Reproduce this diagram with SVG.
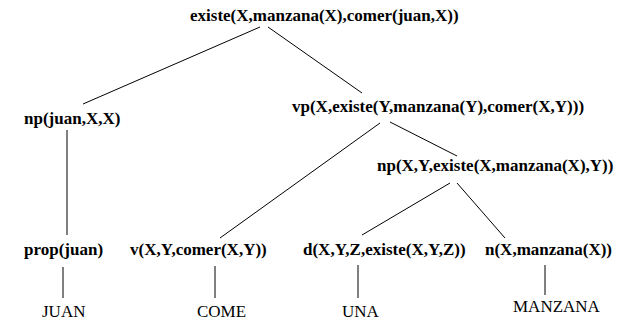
<svg xmlns="http://www.w3.org/2000/svg" width="630" height="320" viewBox="0 0 630 320">
<style>
text{font-family:'Liberation Serif',Tinos,'Nimbus Roman','Nimbus Roman No9 L',FreeSerif,Times,'Times New Roman','DejaVu Serif','Noto Serif',serif;font-size:17px;fill:#000}
.b{font-weight:bold}
.e line{stroke:#000;stroke-width:1}
</style>
<rect width="630" height="320" fill="#fff"/>
<g id="edges" class="e">
<line x1="260" y1="27" x2="83" y2="104"/>
<line x1="268" y1="27" x2="362" y2="93"/>
<line x1="67" y1="130" x2="67" y2="235"/>
<line x1="380" y1="123" x2="220" y2="238"/>
<line x1="390" y1="122" x2="457" y2="156"/>
<line x1="450" y1="183" x2="362" y2="235"/>
<line x1="457" y1="183" x2="505" y2="238"/>
<line x1="63" y1="267" x2="63" y2="298"/>
<line x1="215" y1="266" x2="215" y2="298"/>
<line x1="358" y1="265" x2="358" y2="298"/>
<line x1="545" y1="265" x2="545" y2="295"/>
</g>
<g id="root"><text class="b" x="190" y="21">existe(X,manzana(X),comer(juan,X))</text></g>
<g id="np1"><text class="b" x="24" y="124">np(juan,X,X)</text></g>
<g id="vp"><text class="b" x="292" y="112">vp(X,existe(Y,manzana(Y),comer(X,Y)))</text></g>
<g id="np2"><text class="b" x="377" y="171">np(X,Y,existe(X,manzana(X),Y))</text></g>
<g id="prop"><text class="b" x="24" y="255">prop(juan)</text></g>
<g id="v"><text class="b" x="130" y="255">v(X,Y,comer(X,Y))</text></g>
<g id="d"><text class="b" x="303" y="255">d(X,Y,Z,existe(X,Y,Z))</text></g>
<g id="n"><text class="b" x="485" y="255">n(X,manzana(X))</text></g>
<g id="juan"><text x="42" y="317">JUAN</text></g>
<g id="come"><text x="197" y="317">COME</text></g>
<g id="una"><text x="342" y="317">UNA</text></g>
<g id="manzana"><text x="513" y="312">MANZANA</text></g>
</svg>
